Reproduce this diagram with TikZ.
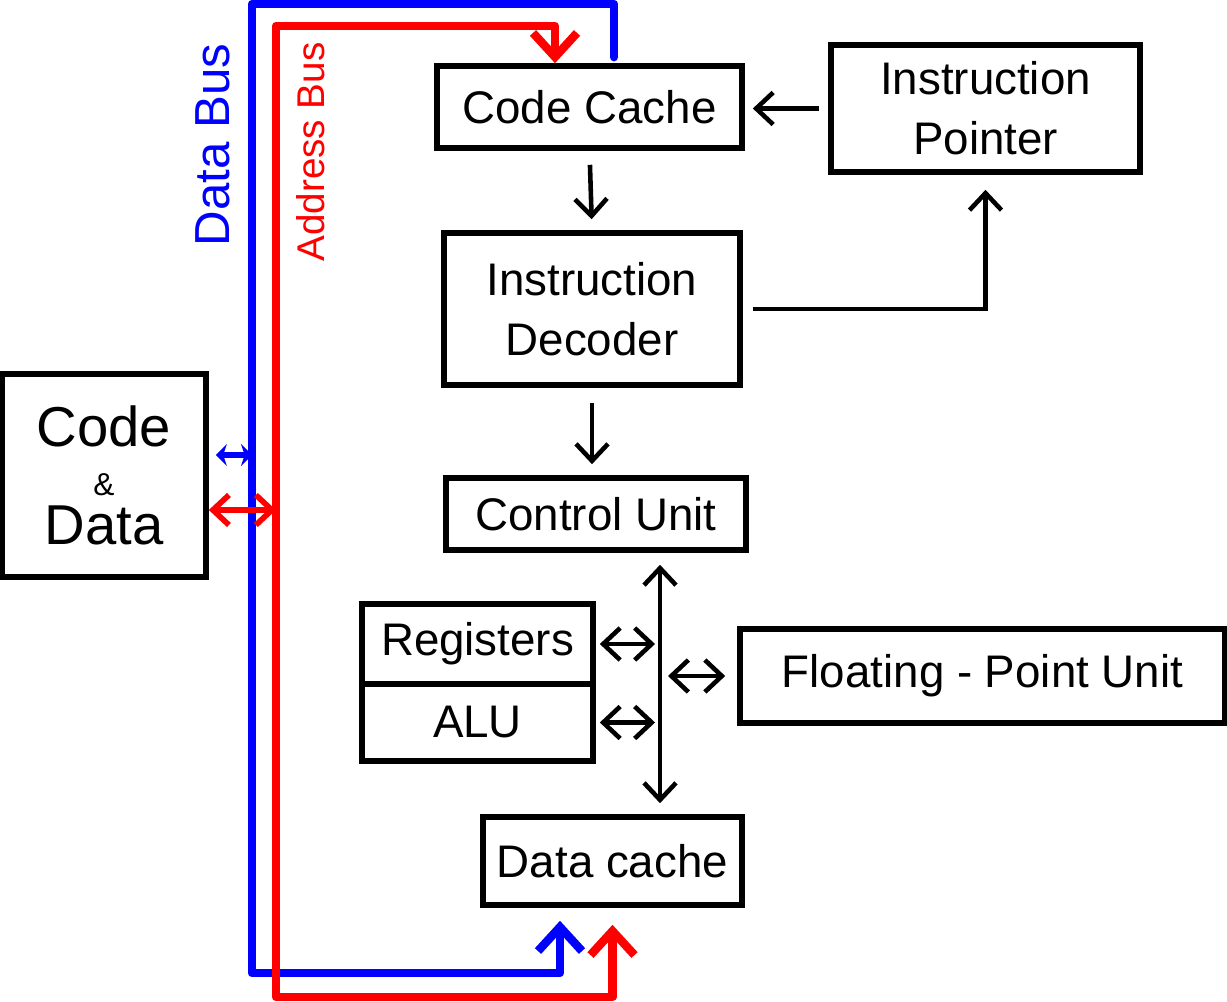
\documentclass[tikz,border=0pt]{standalone}
\usepackage{fontspec}
\setmainfont{Liberation Sans}
\usetikzlibrary{arrows.meta}

\begin{document}
\begin{tikzpicture}[x=0.1mm,y=-0.1mm,
		>={Straight Barb[length=1.7mm,width=3.2mm]},
		boxnode/.style={rectangle, draw=black, line width=1.6pt, fill=white, align=center, inner sep=0pt, font=\fontsize{13}{17}\selectfont},
		arr/.style={line width=1.3pt, ->},
		darr/.style={line width=1.3pt, <->},
		databus/.style={draw=blue, line width=2.4pt, line cap=round, line join=round, >={Straight Barb[length=2.4mm,width=4.4mm]}},
		addrbus/.style={draw=red, line width=2.4pt, line cap=round, line join=round, >={Straight Barb[length=2.4mm,width=4.4mm]}},
		buslabel/.style={rotate=90, font=\fontsize{14}{16}\selectfont},
		]
		\useasboundingbox (0,0) rectangle (1227,1002);
		%Nodes
		\node[boxnode, minimum width=30.5mm, minimum height=8.2mm]  (cc)  at (589.5,107)  {Code Cache};
		\node[boxnode, minimum width=30.9mm, minimum height=12.7mm] (ip)  at (985.5,108.5) {Instruction\\Pointer};
		\node[boxnode, minimum width=29.6mm, minimum height=15.2mm] (dec) at (592,309)    {Instruction\\Decoder};
		\node[boxnode, minimum width=30mm,   minimum height=7.2mm]  (cu)  at (596,514)    {Control Unit};
		\node[boxnode, minimum width=23.1mm, minimum height=8mm]    (reg) at (477.5,644)  {Registers};
		\node[boxnode, minimum width=23.1mm, minimum height=7.7mm]  (alu) at (477.5,722.5) {ALU};
		\node[boxnode, minimum width=48.5mm, minimum height=9.4mm]  (fpu) at (982.5,676)  {Floating - Point Unit};
		\node[boxnode, minimum width=25.9mm, minimum height=8.8mm]  (dc)  at (612.5,861)  {Data cache};
		\node[boxnode, minimum width=20.4mm, minimum height=20.3mm, font=\fontsize{16}{14}\selectfont] (mem) at (104,475.5) {Code\\{\fontsize{9}{9}\selectfont\&}\\Data};
		\node[buslabel, text=blue] (dlabel) at (213,145) {Data Bus};
		\node[buslabel, text=red, font=\fontsize{11}{13}\selectfont] (alabel) at (311,152) {Address Bus};
		
		%Bus corners
		\coordinate (dbus) at (252,4);
		\coordinate (dbot) at (252,973);
		\coordinate (abus) at (276,26);
		\coordinate (abot) at (276,997);
		\coordinate (cbus) at (660,680);
		\coordinate (mb) at ([xshift=0.7mm,yshift=2.05mm]mem.east);
		\coordinate (ma) at ([yshift=-3.45mm]mem.east);
		
		%Buses
		\draw[databus, ->] ([xshift=2.45mm,yshift=0.6mm]cc.north) |- (dbus) -- (dbot) -| ([xshift=-5.25mm,yshift=-1.3mm]dc.south);
		\draw[addrbus, <->] ([yshift=-1.7mm]dc.south) |- (abot) -- (abus) -| ([xshift=-3.45mm]cc.north);
		\draw[databus, line width=1.6pt, <->, >={Stealth[length=1.1mm,width=2.2mm]}] (mb) -- (mb -| dbus);
		\draw[addrbus, line width=1.6pt, <->, >={Straight Barb[length=1.6mm,width=3mm]}] (ma) -- (ma -| abus);
		
		%Arrows
		\draw[arr, shorten <=1.4mm, shorten >=1.1mm] (cc.south) -- (dec.north);
		\draw[arr, shorten <=0.9mm, shorten >=0.8mm] (ip.west) -- (ip.west -| cc.east);
		\draw[arr, shorten <=1mm, shorten >=1.5mm] (dec.east) -| (ip.south);
		\draw[arr, shorten <=1.5mm, shorten >=1.1mm] (dec.south) -- (dec.south |- cu.north);
		\draw[darr, shorten <=1.2mm, shorten >=1.1mm] (cbus |- cu.south) -- (cbus |- dc.north);
		\draw[darr, shorten <=0.4mm, shorten >=0.5mm] (reg.east) -- (reg.east -| cbus);
		\draw[darr, shorten <=0.4mm, shorten >=0.5mm] (alu.east) -- (alu.east -| cbus);
		\draw[darr, shorten <=0.8mm, shorten >=1.2mm] (fpu.west -| cbus) -- (fpu.west);
\end{tikzpicture}
\end{document}
